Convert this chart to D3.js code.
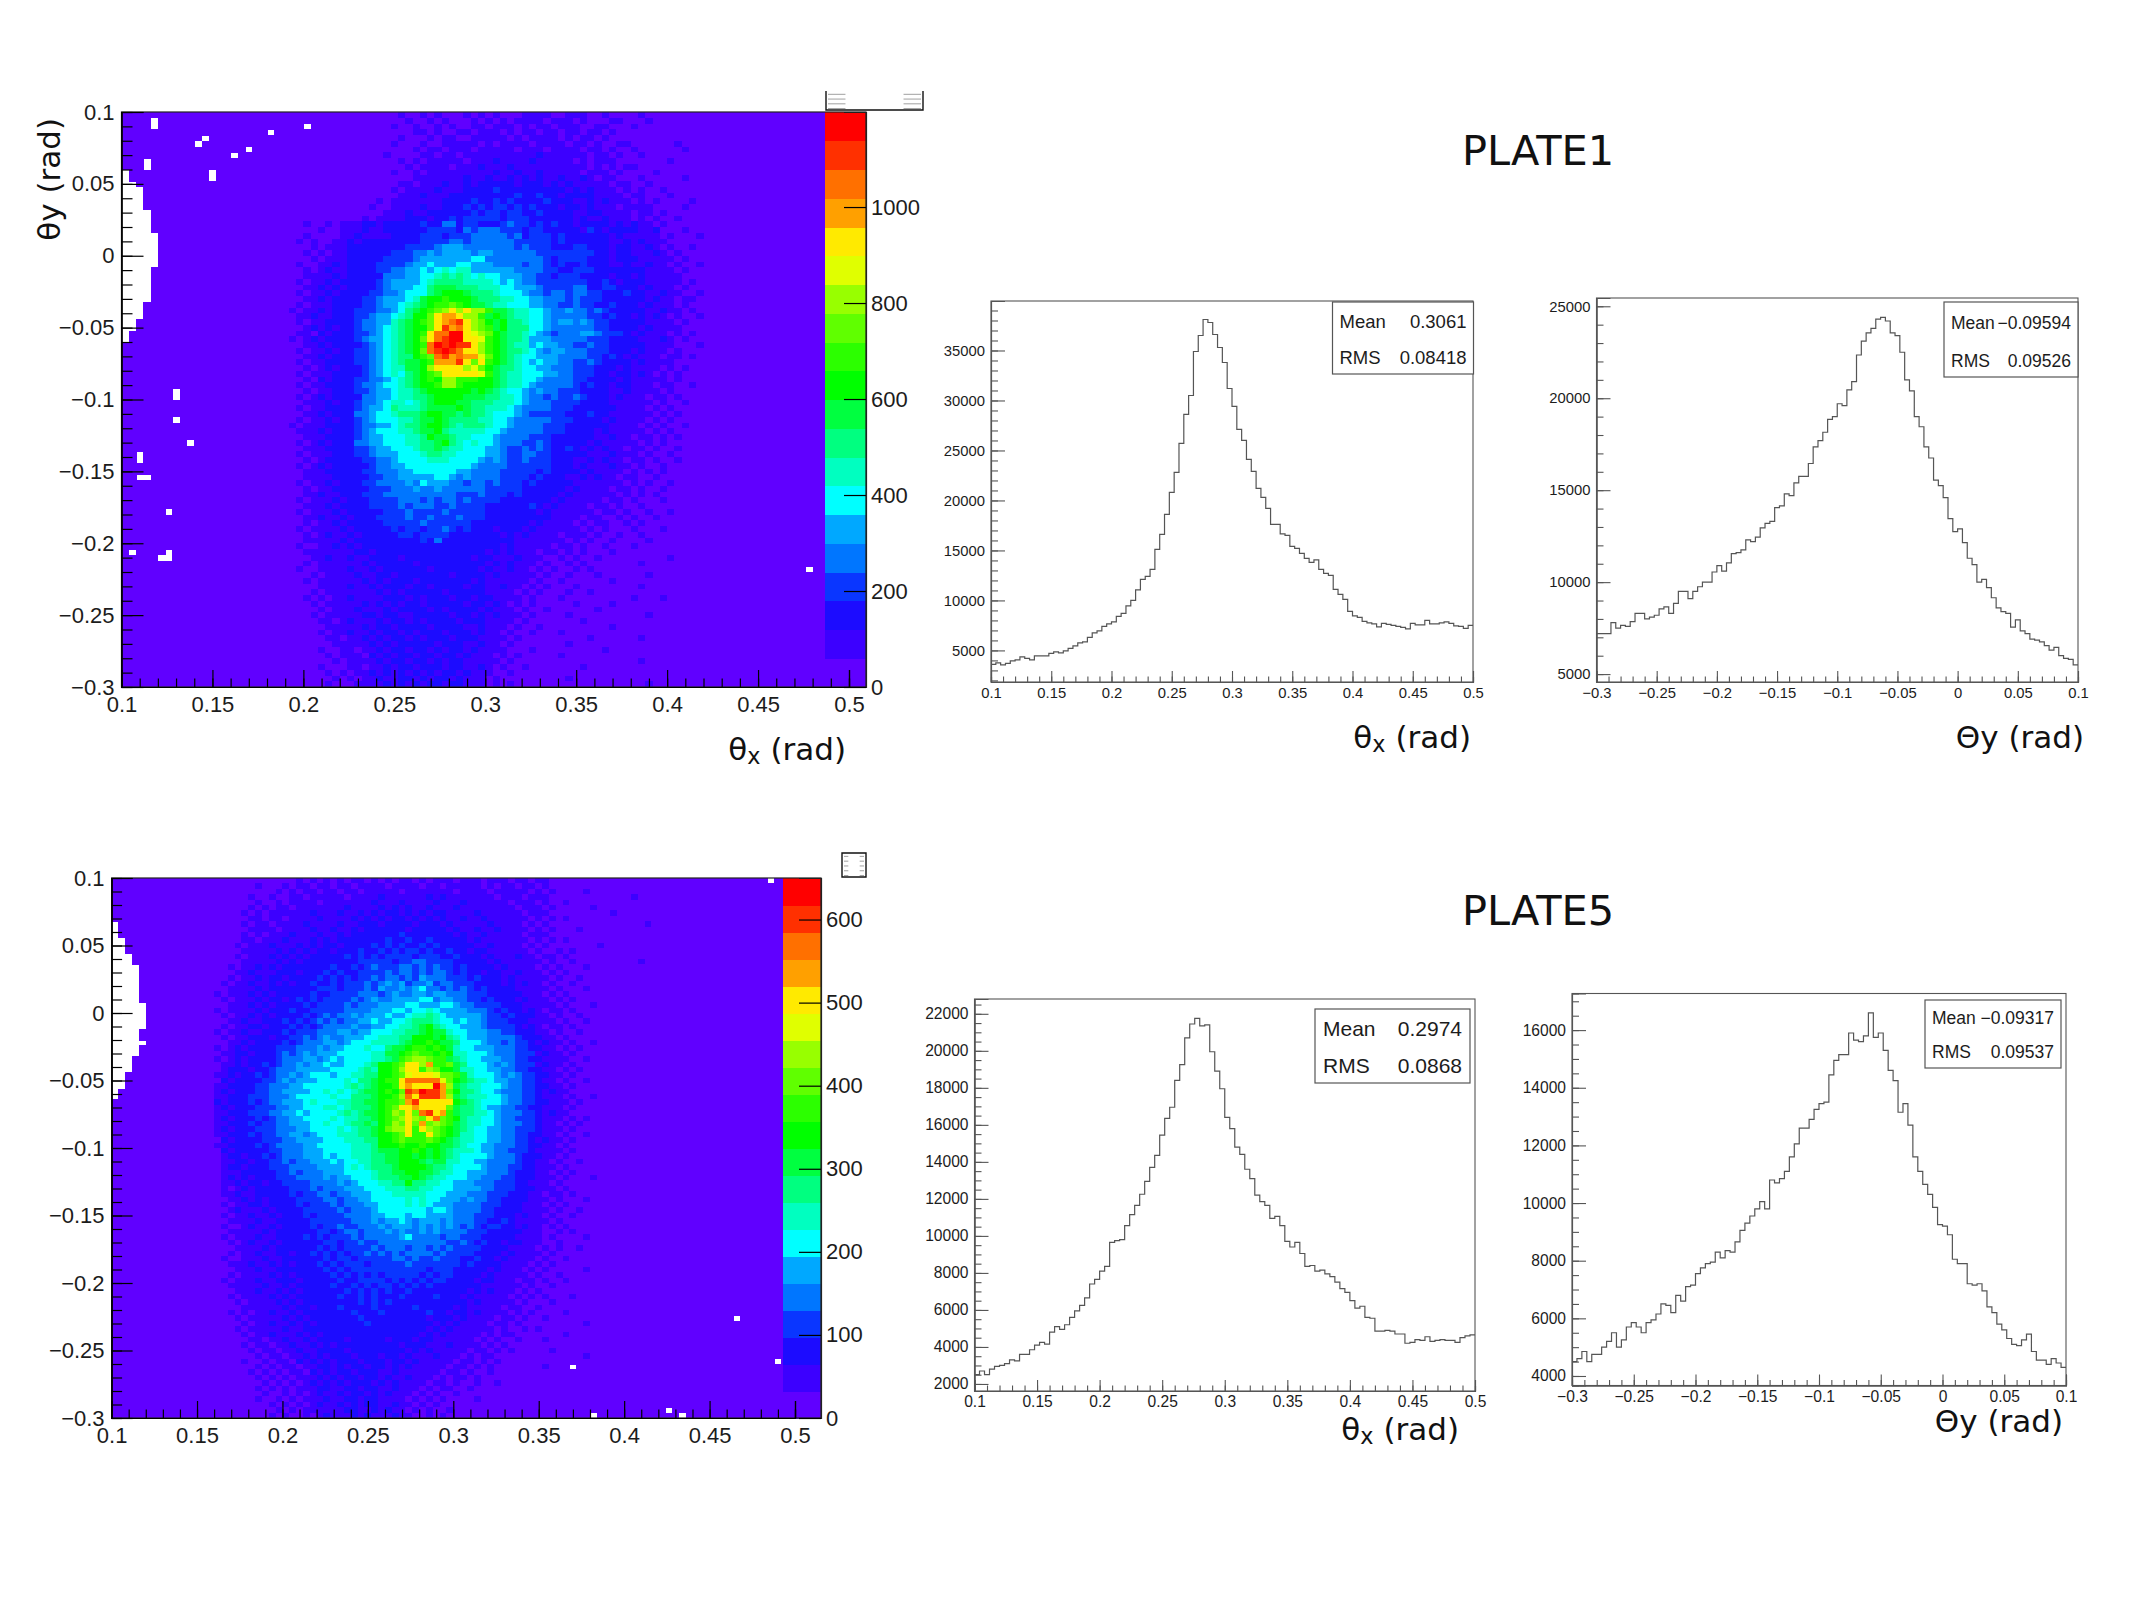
<!DOCTYPE html>
<html>
<head>
<meta charset="utf-8">
<title>PLATE1 and PLATE5 angular distributions</title>
<script src="https://cdn.jsdelivr.net/npm/d3@7"></script>
<style>
  html, body { margin: 0; padding: 0; background: #fff; }
  svg { display: block; }
  text { font-family: "Liberation Sans", Arial, sans-serif; fill: #1c1c1c; }
  .title { font-family: "DejaVu Sans", sans-serif; fill: #111; }
</style>
</head>
<body>
<svg id="figure" width="2134" height="1600"></svg>
<script>
// Beam angular spectra, bin width 0.004 rad on both axes (100 bins per axis).
const BIN_COUNT = 100;
const thetaXTicks = [0.1, 0.15, 0.2, 0.25, 0.3, 0.35, 0.4, 0.45, 0.5];
const thetaYTicks = [-0.3, -0.25, -0.2, -0.15, -0.1, -0.05, 0, 0.05, 0.1];
const minorAngleTicks = d3.range(10, 51).map(v => v / 100);
const minorAngleTicksY = d3.range(-30, 11).map(v => v / 100);

// Contour palette of the 2D maps, lowest contour first.
const contourColors = ["#6000ff","#3c00ff","#1c0cff","#0a36ff","#0076ff","#00a8ff","#00ffff","#00ffc0","#00ff80","#00ff40",
  "#00ff00","#2cff00","#60ff00","#98ff00","#e0ff00","#ffea00","#ffa000","#ff7000","#ff3000","#ff0000"];

const plate1ContourMax = 1198;
const plate5ContourMax = 650;
const plate1ColorTicks = [0, 200, 400, 600, 800, 1000];
const plate5ColorTicks = [0, 100, 200, 300, 400, 500, 600];

// Contour level of every cell, top row first; one character per cell (base 20).
// The first character of a row belongs to column plate1FirstColumn / plate5FirstColumn.
const plate1FirstColumn = 10;
const plate5FirstColumn = 2;
const plate1Rows = [
"0000000000 0000000000 0000000010 0101000101 0100011110 0111001000 0100000000",
"0000000000 0000000000 0000000001 0010100010 1010111101 1101000110 0010000000",
"0000000000 0000000000 0000000100 1001010011 0111010110 1110011000 1000000000",
"0000000000 0000000000 0000000000 1101001101 1101011011 0110110100 0000000000",
"0000000000 0000000000 0000000010 0010110011 1110101111 0101101000 0000000000",
"0000000000 0000000000 0000000100 0100111110 1011110111 1011010011 0000001000",
"0000000000 0000000000 0000000000 1011011101 1111011101 1110110100 1000000100",
"0000000000 0000000000 0000001000 0110110111 1111111211 1111011010 0100000000",
"0000000000 0000000000 0000000010 1011111011 1211112111 1101011100 0000010000",
"0000000000 0000000000 0000000001 0111101112 1112111111 1111010101 1000000000",
"0000000000 0000000000 0000000100 1011111111 1211211211 1110111010 0001000000",
"0000000000 0000000000 0000000000 1111111211 2112121211 2112101100 0100000100",
"0000000000 0000000000 0000000011 0111211212 2222122212 1211111011 0010000000",
"0000000000 0000000000 0000000101 1112111222 2322222222 2121211101 0100100000",
"0000000000 0000000000 0000000011 1211122222 2222322322 1222211110 1100010000",
"0000000000 0000000000 0000010111 1111222232 2323222232 2211212111 0101000010",
"0000000000 0000000000 0000100111 1211222323 2332323222 1221211101 1110000100",
"0000000000 0000000000 0000001112 1122222232 3323322322 2211221111 0110100000",
"0000000000 0000000000 0001011112 2212232333 3323332222 2212112111 0101001000",
"0000000000 0000010010 1112212222 2322442332 2234332323 2212222121 2110100000",
"0000000000 0000000100 1112112222 2233332434 4433323322 2221321222 2112000100",
"0000000000 0000010000 1121111222 2333233344 4443423332 3222222121 1111010001",
"0000000000 0000101001 1212222222 2333344344 4444333332 3222222112 1211100000",
"0000000000 0000001011 1222222223 3334555444 4444343332 2233222122 1121010010",
"0000000000 0000010101 1222222333 4454555545 5444444333 3333322122 1112101000",
"0000000000 0000001011 1222223333 4555555566 4444444432 3333222122 2111110100",
"0000000000 0000100112 1222233334 5565556655 5444434432 3223222112 1121101001",
"0000000000 0000010121 1222233445 5656767755 5555444433 2233322222 2211110100",
"0000000000 0000011112 1222224445 5667878767 6655544332 3332222122 1211111000",
"0000000000 0000101121 2222234555 5678888777 7656544333 3333223212 2211111010",
"0000000000 0000011212 1222234555 6689998887 7766555433 3344223322 2121110100",
"0000000000 0000101121 2222334456 6689aaa988 8766654434 4344332223 2211211001",
"0000000000 0000011212 2223345556 79aabaaa98 8877665544 4343332222 2212110110",
"0000000000 0000101112 2223345567 89abbcba99 8776665544 3343322322 2121110100",
"0000000000 0001011212 2233344568 9abcdfdfdd b998776654 4544343222 2211211010",
"0000000000 0000112112 2233455678 aacfggfddb 9a98776654 4444332322 1212101001",
"0000000000 0000101122 2234455789 abcfghifdc a9a8876654 5545433222 2211110100",
"0000000000 0000012121 2234456789 aacfighfdc b9a8886654 4444433222 2121111000",
"0000000000 0000110212 2233456789 abfhhjjfed ca98876543 4445543332 1211101010",
"0000000000 0001012122 2234556789 acfhijjffe ba98875554 4444333222 2111210100",
"0000000000 0000011212 2223456789 abhjijiifd ba98775655 4433433222 2211110001",
"0000000000 0000101121 2233456789 achijihffd ba98876545 5444333222 1211101000",
"0000000000 0000011212 2233456788 abchighgge ca98766555 4444332321 2111011010",
"0000000000 0000101122 2233456789 9abgggifcf ba98765655 4433432222 1211110000",
"0000000000 0000010121 2223456779 9adffffdec a988766554 4433322212 1111010100",
"0000000000 0000101112 2223456768 9abcfffffe b987766655 4433322122 1210101000",
"0000000000 0000010212 2233445678 9abaddbbba a987766544 4433222212 1111101000",
"0000000000 0000101122 2234456678 9aabddbaaa a987765444 4432322122 1110110010",
"0000000000 0000010112 2233455677 89aaaaaa9a 9876654544 3332222112 1111010000",
"0000000000 0000101212 2224455677 889aaaa999 8877654434 3343222121 1101101000",
"0000000000 0000011121 2234456776 789aaa9988 8777654443 3332222111 1110100100",
"0000000000 0000101122 2234556877 789999a988 7776544443 3322222211 1101010000",
"0000000000 0000011212 2244566788 89aa998988 7666543333 3222322111 1110101000",
"0000000000 0000101121 2234566677 899a988887 7665444443 3322221211 1101010000",
"0000000000 0001011122 2234455678 89aa987888 7665444433 3222222111 1010100100",
"0000000000 0000111212 2234566677 899a877777 6654444433 3222212111 1101010000",
"0000000000 0000011122 2234556667 78a9987766 6544443332 2222211211 0110101000",
"0000000000 0000101212 2244556667 7889a87676 6544433432 2222121111 1010100000",
"0000000000 0000011122 2233455666 7889877666 5543343432 2321212110 1101001000",
"0000000000 0000101112 2233455566 6788776666 5543344332 2222111211 1010010000",
"0000000000 0000010122 2223344566 6677766665 4543343332 2211212110 1101001000",
"0000000000 0000101212 2222344556 6666666654 4443333332 2212111211 0100100000",
"0000000000 0000011122 2223344455 6666665544 4433333232 2221211110 1010100000",
"0000000000 0000011112 2222334455 5556654544 4433332322 2112121101 1001000000",
"0000000000 0000101121 2223344445 4655544344 3433323222 2211111110 1010010000",
"0000000000 0000010112 2222333444 5445444444 3333322222 2121111011 0100100000",
"0000000000 0000011211 2223334444 4444443334 3332322222 1211111101 0101000000",
"0000000000 0000101112 1222333344 4343443433 3322222221 2111110110 1000100000",
"0000000000 0000011121 2222333343 4443343333 2222223212 1111011010 0100000000",
"0000000000 0000101112 1222223334 3333433333 2222222121 1111101101 0010010000",
"0000000000 0000011211 2122233334 3343334333 2222222221 1110110010 1001000000",
"0000000000 0000010112 1222223333 3433333322 2222221211 1101011001 0100000000",
"0000000000 0000101111 2122222323 3233432322 2122212111 1110101000 1000100000",
"0000000000 0000010121 1212222233 2333322222 2212121111 0111010010 0100000000",
"0000000000 0000011111 2122222222 2324222222 2222111111 1010100100 0010000000",
"0000000000 0000100112 1212222222 2222222222 2212111110 1101001000 1000000000",
"0000000000 0000011111 1122122222 2222222222 1212111011 0101000100 0000000000",
"0000000000 0000001121 1211222212 2222222212 2111211100 1010010000 0000010000",
"0000000000 0000010111 1112122222 1222222222 1212111010 0101000000 0100000000",
"0000000000 0000100111 1211212222 2212222221 2112110101 0010100000 0000000000",
"0000000000 0000001011 1121122122 2222212222 1211111010 0100010000 0010000000",
"0000000000 0000010111 1112121222 1222222212 1111110100 1000000100 0000000000",
"0000000000 0000000111 1211212221 2212222122 1121101010 0010000000 0100000000",
"0000000000 0000001011 1111121212 2222122222 1111010100 0100100000 0000000000",
"0000000000 0000010101 1211112221 2122212212 2111101000 1000000000 1000100000",
"0000000000 0000001011 1112121212 2122222122 1210101000 0010000100 0000000000",
"0000000000 0000000101 1121112122 2212122221 2111010010 0000010000 0000000000",
"0000000000 0000001011 1112212211 2222212212 1211101000 0100000000 0010000000",
"0000000000 0000000110 1211121221 2122221222 1111010000 0001000000 0000000000",
"0000000000 0000000011 1112122122 2212222112 1110100100 0000000100 0000000000",
"0000000000 0000000101 1211212212 1222122212 1101001000 1000000000 0000000000",
"0000000000 0000000011 0112121221 2122212221 1110100000 0000100000 0100000000",
"0000000000 0000000001 1111212122 2221222112 1101000000 0100000000 0000000000",
"0000000000 0000000100 1101121221 2212122121 1110001000 0000001000 0000000000",
"0000000000 0000000010 1110212122 1221221211 1010100000 1000000000 0000000000",
"0000000000 0000000001 0111121221 2212122111 1101000000 0000000000 0100000000",
"0000000000 0000000100 0110112122 1222122112 1010010000 0001000000 0000000000",
"0000000000 0000000010 1011212121 2121221211 1001000000 0000000000 0000000000",
"0000000000 0000000001 0101121122 1212212111 0100000000 0100000000 0000000000",
"0000000000 0000000010 0011112121 2122122111 0101000000 0000000000 0010000000"
];

const plate5Rows = [
"0000000000 0000000000 0000010101 0101101010 1101011101 1101110110 1100000000 0000000000",
"0000000000 0000000001 0001011011 0110111101 1110110111 1101011011 0100000000 0000000000",
"0000000000 0000000000 0010101101 1011011111 0111111101 1110111110 1010000100 0000000000",
"0000000000 0000000010 0100110111 1101111211 1111212111 1111011101 1100000000 0000100000",
"0000000000 0000000001 0010111101 1111112111 2111121112 1111110111 0100100000 0000000000",
"0000000000 0000000010 1011011111 1121111212 1211211121 1111111011 1010000010 0000000000",
"0000000000 0000000101 0111111211 1211212122 1212122111 1211111101 1100000000 0100000000",
"0000000000 0000000011 0110111121 1112121212 2121212112 1121111110 1010100000 0000000000",
"0000000000 0000000101 1011112111 1211222122 2212221211 1112111101 0100000000 0000001000",
"0000000000 0000000011 1101111211 2112122222 2122222121 1211211110 1010001000 0000000000",
"0000000000 0000000101 0111211121 1212222222 3222222212 1121111101 1100000000 0000000000",
"0000000000 0000000110 1112111212 1222222232 2322322222 1211111110 1010100000 0000000000",
"0000000000 0000001011 1211121212 2122223232 3223232222 2112111101 0100000001 0000000000",
"0000000000 0000000111 1121212122 1222322323 2332322322 1221111110 1001010000 0000000000",
"0000000000 0000001011 1212121222 2232323233 3323332232 2212111211 0110100000 0000000000",
"0000000000 0000000111 1121212222 2222333332 3344333322 2221211111 1010010000 0000010000",
"0000000000 0000010112 1212222222 3223234333 4434343323 2222121111 0101000100 0000000000",
"0000000000 0000001121 1122212223 2322333343 4434344323 2212211211 1010100000 0000000000",
"0000000000 0000010112 1221222232 3232334344 3435444333 2322212111 1101001000 0000000000",
"0000000000 0000101121 1212122322 3233343454 5344534433 3222212121 1010010000 0000000000",
"0000000000 0000011112 1222222233 3233343544 5456443434 3232222111 1101000100 0000000000",
"0000000000 0001011121 2122222322 3333444345 4455455444 3332222211 1010100000 0000000000",
"0000000000 0000101112 1221232323 3334345445 5556645544 3323222121 1101010000 0000000000",
"0000000000 0000011121 2122223233 3343444555 5665556654 4333322211 1110100010 0000000000",
"0000000000 0001011112 1222322333 3344445556 6566765555 4443232212 1011010000 0000000000",
"0000000000 0000101121 2122223234 3445455565 5677876555 5543323222 1101001000 0000000000",
"0000000000 0000011211 2223232343 4344556556 6788876656 5543332221 1110100100 0000000000",
"0000000000 0000101122 1222323234 4445445566 7789a87665 5543333212 1011010000 0000000000",
"0000000000 0001011211 2223233344 4554556667 7889a99766 5554433222 1101001000 0000000000",
"0000000000 0000101122 2122334345 4455566777 88aaa9a876 5554444322 2110100000 0000000000",
"0000000000 0000011212 2223234445 5456667777 89aaba9986 6654434332 1211010010 0000000000",
"0000000000 0001012122 2233344454 5566676689 9abbaba976 6555444332 2110101000 0000000000",
"0000000000 0000112212 2234345455 5666667799 abcbbaba77 6665444333 1211010000 0000000000",
"0000000000 0001012122 2234445545 6566667789 bcddcbb987 6655544332 2111100100 0000000000",
"0000000000 0000112122 3234454556 5566678aab cffdgbbc98 6665454333 1211010000 0000000000",
"0000000000 0000122212 2344455555 6666787aab dffbdcaa97 7665544332 2110101000 0000000000",
"0000000000 0001121223 2344545666 5667788aab cefffeccb9 7666545433 2211010000 0000000000",
"0000000000 0000212222 3345455566 6676889abb fhhhhheca9 8776554433 2110100100 0000000000",
"0000000000 0001122223 3444556666 6678789aab fgfffjgd98 7766654433 2211010000 0000000000",
"0000000000 0001212223 3445555667 6767899aba cihjiigca8 8766544433 2121100000 0000000000",
"0000000000 0001122233 3444566666 7668889aab dhfiiigd98 7776654433 2111010010 0000000000",
"0000000000 0002122232 3445556766 6778899abb cgifffffa9 8766654433 2211101000 0000000000",
"0000000000 0001212223 3344556667 7678889abc ffgffffc98 8765544332 2111010000 0000000000",
"0000000000 0001122233 3445565666 6787899abd cfchifgb98 8776544433 2121100000 0000000000",
"0000000000 0001212223 2344556666 7677889abc dfdcfhcba8 7766544333 2111010100 0000000000",
"0000000000 0001122232 3344555667 6678898abd cfcgcdcb98 7766544433 2110101000 0000000000",
"0000000000 0001212223 3344455666 6767889acd dfbfdcba98 7665544333 2111010000 0000000000",
"0000000000 0001122232 3344554566 6777889aab cfbbfcba97 7665544332 2110100100 0000000000",
"0000000000 0000212222 3334455556 6677788aab cbbbcba987 7665544332 1211010000 0000000000",
"0000000000 0001122223 2344445566 6667778aaa baabaa9987 6655444332 2110100000 0000000000",
"0000000000 0000212222 2334445556 6667778999 aaba9a9877 7655443332 1111010000 0000000000",
"0000000000 0000122122 3234445556 5667778899 aa9a9a9876 6665444322 2110100000 0000000000",
"0000000000 0000112212 2334344555 6566778899 aaa9899776 6554444322 1101001000 0000000000",
"0000000000 0000122122 2333444455 5567678889 aaaa988766 6654443322 1110100000 0000000000",
"0000000000 0000111222 2233434445 5566667889 9aa9987766 5554443222 1101010000 0000000000",
"0000000000 0000121212 2233344445 4556667888 99a9877666 5544433222 1110100010 0000000000",
"0000000000 0000112122 1223333444 4545666778 8a88776655 5444333221 1101000000 0000000000",
"0000000000 0000101212 2222333434 4455566677 7887766655 5544333222 1110100000 0000000000",
"0000000000 0000112112 2222323344 3445556667 7777666555 4443332221 1011010000 0000000000",
"0000000000 0000011212 1222233334 4344556666 6767665554 5443322221 1101000100 0000000000",
"0000000000 0000101122 1222232333 4344455666 6767655544 4433322211 1010100000 0000000000",
"0000000000 0000012111 2122223333 3434445666 6666566544 4433222211 1101001000 0000000000",
"0000000000 0000101121 1212223233 3344445566 6566555544 4333222121 1010010000 0000000000",
"0000000000 0000011112 1122222333 3334445455 6545554544 4332232111 1101000000 0000000000",
"0000000000 0000100121 1212222323 3433444545 5545454543 4323322121 1010100000 0000000000",
"0000000000 0000011111 2122222233 2344344454 5445454444 3332222211 1001010000 0000000000",
"0000000000 0000101112 1122223232 3334344444 5644443443 3322222111 1010000100 0000000000",
"0000000000 0000010121 1212222223 3233433444 4444444334 3232212211 1001000000 0000000000",
"0000000000 0000001111 2122222232 3233334344 4344343433 3322221111 0101001000 0000000000",
"0000000000 0000010112 1122122323 2323343434 3444434333 3222212111 1010000000 0000000000",
"0000000000 0000100111 2112222223 2332333334 4343343332 2322121111 0100100000 0000000000",
"0000000000 0000011121 1212122232 3233323333 3433333332 3222211110 1010000000 0000000000",
"0000000000 0000001112 1122222223 2323333333 3333233322 2221211101 0100000100 0000000000",
"0000000000 0000010111 1212122222 3232323233 3332323322 2212111110 1001000000 0000000000",
"0000000000 0000101112 1122212222 2322333323 2323233222 2122111011 0100100000 0000000000",
"0000000000 0000011111 2112122222 3223232332 3232322222 2211111101 0010000000 0000000000",
"0000000000 0000001112 1121212222 2232323232 2322222222 1212111010 1000000000 0000000000",
"0000000000 0000010111 1212122222 2322323222 3222232221 2111110101 0100010000 0000000000",
"0000000000 0000001011 1121212222 2222323232 2222222222 1211111010 0010000000 0000000000",
"0000000000 0000000111 1112122122 2322223222 2232222212 1111101100 1000000000 0000000000",
"0000000000 0000010101 1211212222 2223222322 2222322122 1211110101 0000100000 0000000000",
"0000000000 0000001011 1112121222 2222322222 2222122212 1111011010 0100000000 0000000000",
"0000000000 0000000101 1211212122 2222232222 2222212121 1110110100 0000000100 0000000000",
"0000000000 0000001011 1112112222 2222222222 2222121211 1111010010 1000000000 0000000000",
"0000000000 0000000101 1211121212 2222222222 2221212111 1101011000 0000100000 0000000000",
"0000000000 0000000011 0112112122 2212222212 2212211111 1010100100 0100000000 0000000000",
"0000000000 0000000101 1011211212 1222222222 1222111211 1101010000 0000000000 0000000000",
"0000000000 0000000010 1101121122 2212222222 2121211111 0110101000 0010000000 0000000000",
"0000000000 0000000001 0110112121 2221222122 1211121110 1011000000 0000000100 0000000000",
"0000000000 0000000100 1011021212 1222122212 2121111101 1010100000 0000000000 0000000000",
"0000000000 0000000001 0101101122 1212212212 1211111011 0101000000 0100000000 0000000000",
"0000000000 0000000010 1010110212 1221222112 1111110110 1001000000 0000000000 0000000000",
"0000000000 0000000001 0101011121 2122122121 1211101011 0100000000 0000000000 0000000000",
"0000000000 0000000000 1010101212 1212221212 1111011010 0100100000 0000000000 0000000000",
"0000000000 0000000001 0101011122 1122122112 1110101100 1000000000 0000000000 0000000000",
"0000000000 0000000000 1001010121 1212212121 1101010010 0000000000 0000000000 0000000000",
"0000000000 0000000001 0010101112 1122122111 1010101000 0100000000 0000000000 0000000000",
"0000000000 0000000000 0101010121 1212122112 1101010000 0000000000 0000000000 0000000000",
"0000000000 0000000000 0010101111 1122112121 1010100100 0000000000 0000000000 0000000000",
"0000000000 0000000000 0101001012 1112121112 1100101000 0000000000 0000000000 0000000000"
];

// Empty bins: the widths of the empty block on the left edge, as [row, cells], and isolated [column, row] cells.
const plate1EdgeGap = [[10,1],[11,1],[12,2],[13,3],[14,3],[15,3],[16,3],[17,4],[18,4],[19,4],[20,4],[21,5],[22,5],[23,5],[24,5],[25,5],[26,5],
  [27,4],[28,4],[29,4],[30,4],[31,4],[32,4],[33,3],[34,3],[35,3],[36,2],[37,2],[38,1],[39,1]];
const plate1Empty = [[4,1],[4,2],[3,8],[3,9],[11,4],[10,5],[20,3],[25,2],[15,7],[17,6],[12,10],[12,11],[7,48],[7,49],[7,53],[9,57],
  [2,59],[2,60],[2,63],[3,63],[6,69],[1,76],[6,76],[5,77],[6,77],[94,79]];
const plate5EdgeGap = [[8,1],[9,1],[10,1],[11,2],[12,2],[13,2],[14,3],[15,3],[16,4],[17,4],[18,4],[19,4],[20,4],[21,4],[22,4],
  [23,5],[24,5],[25,5],[26,5],[27,5],[28,4],[29,4],[30,5],[31,4],[32,4],[33,3],[34,3],[35,3],[36,2],[37,2],[38,2],[39,1],[40,1]];
const plate5Empty = [[96,0],[91,81],[67,90],[81,98],[70,99],[83,99],[97,89]];

// 1D projections (entries per bin).
const plate1ThetaX = [3600,3750,3550,3700,3950,4050,4350,4200,4050,4450,
  4450,4450,4700,4850,4750,4950,5200,5450,5750,5850,
  6300,6750,6950,7400,7650,7850,8400,8700,9450,10000,
  11050,12100,12400,13100,15100,16600,18600,20800,22800,25700,
  28600,30500,34900,36500,38100,37800,36600,35300,33800,31200,
  29400,27100,26000,24100,22900,21200,20300,19200,17600,17600,
  16650,16500,15400,15200,14700,14200,13800,14050,13100,12700,
  12500,11100,10600,10100,8900,8450,8300,7900,7750,7650,
  7350,7700,7600,7500,7400,7300,7150,7700,7550,7550,
  8000,7650,7650,7750,7850,7700,7450,7400,7200,7500];
const plate1ThetaY = [7200,7200,7200,7800,7500,7650,7600,7850,8300,8300,
  8000,8100,8200,8550,8650,8300,8850,9500,9500,9100,
  9500,9750,10000,10000,10550,10900,10600,11050,11550,11600,
  11750,12300,12200,12450,12950,13200,13300,14050,14150,14800,
  14700,15400,15750,15750,16450,17350,17700,18150,18850,19000,
  19700,19600,20450,20900,22350,23100,23550,23800,24300,24400,
  24200,23550,23400,22500,21000,20400,19000,18450,17350,16750,
  15550,15250,14600,13450,12750,12900,12150,11300,10950,10000,
  10150,9700,9150,8600,8400,8300,7550,7950,7350,7200,
  6900,6850,6750,6550,6300,6450,6000,5850,5800,5500];
const plate5ThetaX = [2500,2700,2500,2800,2950,3000,3100,3300,3250,3600,
  3600,3850,4100,4250,4150,4800,5100,4950,5200,5600,
  5950,6250,6650,7400,7650,8100,8350,9650,9750,9800,
  10550,11150,11650,12250,12950,13700,14350,15450,16350,16950,
  18400,19250,20700,21450,21750,21350,21400,19950,18900,17950,
  16400,15800,14800,14400,13600,13100,12200,11850,11650,10950,
  11050,10550,9700,9400,9650,9050,8350,8400,8100,8150,
  7950,7800,7500,7150,6950,6500,6100,6200,5600,5550,
  4850,4850,4900,4850,4700,4700,4200,4250,4400,4350,
  4550,4300,4350,4400,4350,4350,4250,4500,4600,4650];
const plate5ThetaY = [4500,4600,4850,4500,4750,4750,5000,5200,5500,5000,
  5250,5700,5850,5700,5500,5850,5950,6150,6500,6450,
  6200,6800,6600,7100,7150,7550,7750,7900,7950,8300,
  8100,8350,8300,8650,9050,9300,9550,9800,10050,9800,
  10800,10700,10850,11100,11600,12050,12600,12600,12900,13250,
  13450,13500,14450,14950,15150,15150,15900,15650,15600,15800,
  16600,15750,15900,15300,14600,14250,13150,13450,12700,11600,
  11100,10650,10300,9850,9250,9200,8900,8050,7900,7900,
  7200,7150,7200,6950,6400,6200,5800,5600,5300,5100,
  5050,5250,5450,4850,4550,4550,4400,4600,4450,4300];

const plate1StatsX = [["Mean", "0.3061"], ["RMS", "0.08418"]];
const plate1StatsY = [["Mean", "−0.09594"], ["RMS", "0.09526"]];
const plate5StatsX = [["Mean", "0.2974"], ["RMS", "0.0868"]];
const plate5StatsY = [["Mean", "−0.09317"], ["RMS", "0.09537"]];

const svg = d3.select("#figure");
const INK = "#000";
const HIST_INK = "#555";
const fmt = v => String(+v.toFixed(2)).replace("-", "−");

function drawAxisPair(g, axisGen, minorGen, pos, opts) {
  const a = g.append("g").attr("transform", pos);
  a.call(minorGen);
  a.selectAll("text").remove();
  const b = g.append("g").attr("transform", pos);
  b.call(axisGen);
  g.selectAll(".domain").attr("stroke", opts.ink).attr("stroke-width", opts.lineWidth);
  g.selectAll(".tick line").attr("stroke", opts.ink).attr("stroke-width", opts.lineWidth);
  b.selectAll("text").attr("font-size", opts.fontSize).attr("fill", "#1c1c1c");
}

function parseLevels(rows, firstColumn) {
  const cells = [];
  rows.forEach((row, r) => {
    const text = row.replace(/ /g, "");
    d3.range(BIN_COUNT).forEach(c => {
      const ch = c < firstColumn ? "0" : (text[c - firstColumn] || "0");
      cells.push({ c, r, level: parseInt(ch, 20) });
    });
  });
  return cells;
}

function drawMap(cfg) {
  const g = svg.append("g");
  // The horizontal scale reaches 0.5 under the palette bar; the frame runs on to the bar's right edge.
  const x = d3.scaleLinear().domain([0.1, 0.5]).range([cfg.left, cfg.xEnd]);
  const y = d3.scaleLinear().domain([-0.3, 0.1]).range([cfg.bottom, cfg.top]);
  const binW = 0.4 / BIN_COUNT;
  const z = d3.scaleLinear().domain([0, cfg.max]).range([cfg.bottom, cfg.top]);
  const step = cfg.max / contourColors.length;
  const color = d3.scaleQuantize().domain([0, cfg.max]).range(contourColors);

  const empty = new Set(cfg.empty.map(d => d[0] + ":" + d[1]));
  cfg.edgeGap.forEach(([r, n]) => d3.range(n).forEach(c => empty.add(c + ":" + r)));
  const cells = parseLevels(cfg.rows, cfg.firstColumn).filter(d => !empty.has(d.c + ":" + d.r));

  g.append("g").attr("shape-rendering", "crispEdges")
    .selectAll("rect").data(cells).join("rect")
    .attr("x", d => x(0.1 + d.c * binW))
    .attr("y", d => y(0.1 - d.r * binW))
    .attr("width", d => x(0.1 + (d.c + 1) * binW) - x(0.1 + d.c * binW) + 0.5)
    .attr("height", d => y(0.1 - (d.r + 1) * binW) - y(0.1 - d.r * binW) + 0.5)
    .attr("fill", d => color((d.level + 0.5) * step));

  // Palette bar over the right end of the frame
  g.append("g").attr("shape-rendering", "crispEdges")
    .selectAll("rect").data(contourColors).join("rect")
    .attr("x", cfg.barLeft).attr("width", cfg.frameRight - cfg.barLeft)
    .attr("y", (d, i) => z((i + 1) * step))
    .attr("height", (d, i) => z(i * step) - z((i + 1) * step) + 0.5)
    .attr("fill", d => d);

  // Frame
  g.append("rect").attr("x", cfg.left).attr("y", cfg.top)
    .attr("width", cfg.frameRight - cfg.left).attr("height", cfg.bottom - cfg.top)
    .attr("fill", "none").attr("stroke", "#222").attr("stroke-width", 1.2);

  const opts = { ink: INK, lineWidth: 1.2, fontSize: cfg.fontSize };
  drawAxisPair(g,
    d3.axisBottom(x).tickValues(thetaXTicks).tickFormat(fmt).tickSize(-cfg.majorX).tickPadding(9),
    d3.axisBottom(x).tickValues(minorAngleTicks).tickSize(-cfg.majorX / 2),
    `translate(0,${cfg.bottom})`, opts);
  g.selectAll(".domain").attr("stroke", "none");
  drawAxisPair(g,
    d3.axisLeft(y).tickValues(thetaYTicks).tickFormat(fmt).tickSize(-cfg.majorY).tickPadding(7),
    d3.axisLeft(y).tickValues(minorAngleTicksY).tickSize(-cfg.majorY / 2),
    `translate(${cfg.left},0)`, opts);

  const bar = g.append("g").attr("transform", `translate(${cfg.frameRight},0)`)
    .call(d3.axisRight(z).tickValues(cfg.colorTicks).tickFormat(String).tickSize(-22).tickPadding(5));
  bar.select(".domain").attr("stroke", "#222").attr("stroke-width", 1.2);
  bar.selectAll(".tick line").attr("stroke", INK).attr("stroke-width", 1.2);
  bar.selectAll("text").attr("font-size", cfg.fontSize).attr("fill", "#1c1c1c");

  // Miniature statistics box above the bar
  const s = cfg.miniBox;
  g.append("rect").attr("x", s.x).attr("y", s.y).attr("width", s.w).attr("height", s.h).attr("fill", "#fff");
  g.append("path").attr("fill", "none").attr("stroke", "#111").attr("stroke-width", 1.4)
    .attr("d", s.open
      ? `M${s.x},${s.y}V${s.y + s.h}H${s.x + s.w}V${s.y}`
      : `M${s.x},${s.y}V${s.y + s.h}H${s.x + s.w}V${s.y}Z`);
  const lines = d3.range(s.lines).map(i => s.y + (i + 0.7) * s.h / s.lines);
  g.append("g").attr("stroke", "#888").attr("stroke-width", 0.8)
    .selectAll("path").data(lines).join("path")
    .attr("d", d => `M${s.x + 2},${d}h${s.w * 0.18}M${s.x + s.w - 2},${d}h${-s.w * 0.18}`);
}

function drawHist(cfg) {
  const g = svg.append("g");
  const x = d3.scaleLinear().domain(cfg.xDomain).range([cfg.left, cfg.right]);
  const y = d3.scaleLinear().domain(cfg.yDomain).range([cfg.bottom, cfg.top]);
  const binW = (cfg.xDomain[1] - cfg.xDomain[0]) / cfg.values.length;
  const pts = cfg.values.map((v, i) => [cfg.xDomain[0] + i * binW, v]);
  pts.push([cfg.xDomain[1], cfg.values[cfg.values.length - 1]]);

  g.append("rect").attr("x", cfg.left).attr("y", cfg.top)
    .attr("width", cfg.right - cfg.left).attr("height", cfg.bottom - cfg.top)
    .attr("fill", "none").attr("stroke", HIST_INK).attr("stroke-width", 1.1);

  g.append("path").datum(pts)
    .attr("fill", "none").attr("stroke", HIST_INK).attr("stroke-width", 1.2)
    .attr("d", d3.line().x(d => x(d[0])).y(d => y(d[1])).curve(d3.curveStepAfter));

  const opts = { ink: HIST_INK, lineWidth: 1.1, fontSize: cfg.fontSize };
  const minorX = cfg.xDomain[0] === 0.1 ? minorAngleTicks : minorAngleTicksY;
  const majorX = cfg.xDomain[0] === 0.1 ? thetaXTicks : thetaYTicks;
  drawAxisPair(g,
    d3.axisBottom(x).tickValues(majorX).tickFormat(fmt).tickSize(-11).tickPadding(5),
    d3.axisBottom(x).tickValues(minorX).tickSize(-5.5),
    `translate(0,${cfg.bottom})`, opts);
  const minorY = d3.range(Math.ceil(cfg.yDomain[0] / cfg.yMinor), Math.floor(cfg.yDomain[1] / cfg.yMinor) + 1).map(k => k * cfg.yMinor);
  const majorY = d3.range(Math.ceil(cfg.yDomain[0] / cfg.yMajor), Math.floor(cfg.yDomain[1] / cfg.yMajor) + 1).map(k => k * cfg.yMajor);
  drawAxisPair(g,
    d3.axisLeft(y).tickValues(majorY).tickFormat(d => String(d)).tickSize(-14).tickPadding(6),
    d3.axisLeft(y).tickValues(minorY).tickSize(-7),
    `translate(${cfg.left},0)`, opts);

  // Statistics box
  const b = cfg.box;
  g.append("rect").attr("x", b.x).attr("y", b.y).attr("width", b.w).attr("height", b.h)
    .attr("fill", "#fff").attr("stroke", HIST_INK).attr("stroke-width", 1.2);
  cfg.stats.forEach((row, i) => {
    const base = b.y + b.h * (i === 0 ? 0.36 : 0.86);
    g.append("text").attr("x", b.x + b.pad).attr("y", base).attr("font-size", b.font).text(row[0]);
    g.append("text").attr("x", b.x + b.w - b.pad).attr("y", base).attr("font-size", b.font)
      .attr("text-anchor", "end").text(row[1]);
  });
}

// Axis captions with a subscript, set in the slide's sans face.
function caption(x, y, main, sub, rest, size, rotate) {
  const t = svg.append("text").attr("class", "title").attr("font-size", size).attr("text-anchor", "end");
  if (rotate) t.attr("transform", `translate(${x},${y}) rotate(-90)`);
  else t.attr("x", x).attr("y", y);
  t.append("tspan").text(main);
  if (sub) t.append("tspan").attr("font-size", size * 0.72).attr("dy", size * 0.14).text(sub);
  t.append("tspan").attr("dy", sub ? -size * 0.14 : 0).text(rest);
}

drawMap({ left: 121.5, xEnd: 849, frameRight: 866, top: 112, bottom: 687, barLeft: 825, max: plate1ContourMax, rows: plate1Rows,
  firstColumn: plate1FirstColumn, edgeGap: plate1EdgeGap, empty: plate1Empty, colorTicks: plate1ColorTicks, fontSize: 22, majorX: 17, majorY: 22,
  miniBox: { x: 826, y: 91, w: 97, h: 19, lines: 4, open: true } });
drawMap({ left: 111.6, xEnd: 795, frameRight: 821, top: 878, bottom: 1418, barLeft: 783, max: plate5ContourMax, rows: plate5Rows,
  firstColumn: plate5FirstColumn, edgeGap: plate5EdgeGap, empty: plate5Empty, colorTicks: plate5ColorTicks, fontSize: 22, majorX: 17, majorY: 21,
  miniBox: { x: 842, y: 853, w: 24, h: 24, lines: 5, open: false } });

drawHist({ left: 991, right: 1473, top: 301, bottom: 682, xDomain: [0.1, 0.5], yDomain: [1840, 39950], yMajor: 5000, yMinor: 1000,
  values: plate1ThetaX, fontSize: 14.8, stats: plate1StatsX, box: { x: 1332.5, y: 302, w: 141, h: 72, pad: 7, font: 18.5 } });
drawHist({ left: 1596.5, right: 2078, top: 298, bottom: 682, xDomain: [-0.3, 0.1], yDomain: [4570, 25450], yMajor: 5000, yMinor: 1000,
  values: plate1ThetaY, fontSize: 14.8, stats: plate1StatsY, box: { x: 1944, y: 302, w: 134, h: 75, pad: 7, font: 17.5 } });
drawHist({ left: 974.5, right: 1475, top: 999, bottom: 1391, xDomain: [0.1, 0.5], yDomain: [1620, 22800], yMajor: 2000, yMinor: 500,
  values: plate5ThetaX, fontSize: 15.6, stats: plate5StatsX, box: { x: 1315, y: 1009, w: 155, h: 74, pad: 8, font: 21 } });
drawHist({ left: 1572, right: 2066, top: 993.5, bottom: 1385.5, xDomain: [-0.3, 0.1], yDomain: [3670, 17270], yMajor: 2000, yMinor: 500,
  values: plate5ThetaY, fontSize: 15.6, stats: plate5StatsY, box: { x: 1925, y: 1000, w: 136, h: 68, pad: 7, font: 17.5 } });

svg.append("text").attr("class", "title").attr("x", 1538).attr("y", 165).attr("font-size", 41.5)
  .attr("text-anchor", "middle").text("PLATE1");
svg.append("text").attr("class", "title").attr("x", 1538).attr("y", 925).attr("font-size", 41.5)
  .attr("text-anchor", "middle").text("PLATE5");

caption(846, 760, "θ", "x", " (rad)", 31);
caption(1471, 748, "θ", "x", " (rad)", 31);
caption(2084, 748, "Θy (rad)", null, "", 31);
caption(1459, 1440, "θ", "x", " (rad)", 31);
caption(2063, 1432, "Θy (rad)", null, "", 31);
caption(60, 118, "θy (rad)", null, "", 31, true);
</script>
</body>
</html>
